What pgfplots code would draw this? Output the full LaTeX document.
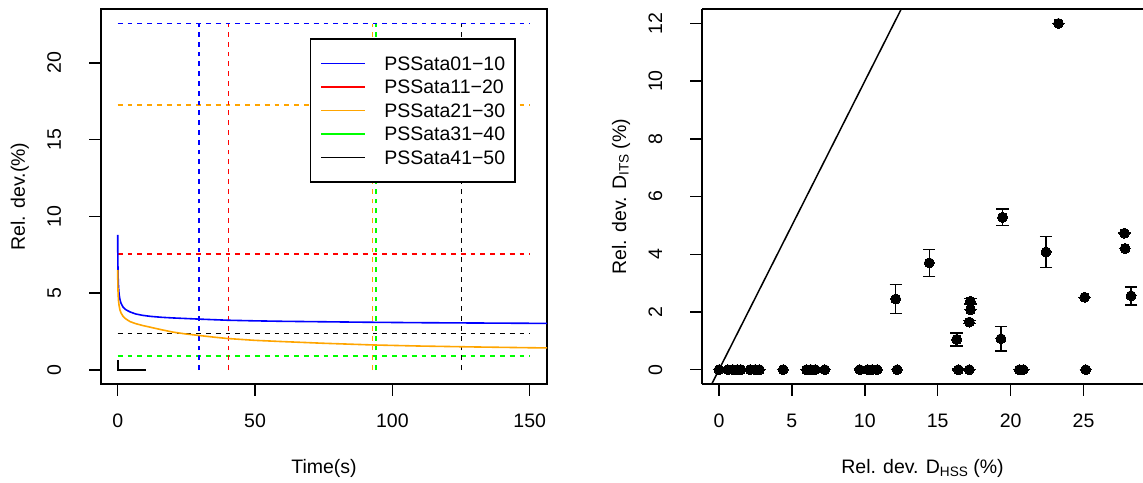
\documentclass[border=0pt]{standalone}
\usepackage{fontspec}
\setmainfont{Liberation Sans}
\usepackage{pgfplots}
\pgfplotsset{compat=1.18}
\definecolor{rblue}{RGB}{0,0,255}
\definecolor{rred}{RGB}{255,0,0}
\definecolor{rorange}{RGB}{255,165,0}
\definecolor{rgreen}{RGB}{0,255,0}
\newcommand{\fs}{\fontsize{19.5}{23}\selectfont}
\pgfplotsset{
  rstyle/.style={
    scale only axis,
    anchor=south west,
    axis line style={line width=1.5pt},
    tick align=outside,
    major tick length=11.7pt,
    every tick/.style={black, line width=1.5pt},
    xtick pos=left, ytick pos=left,
    font=\fs,
    /pgf/number format/assume math mode=true,
    xticklabel style={anchor=base, yshift=-32pt},
    yticklabel style={xshift=-28.3pt, rotate=90, anchor=base},
    every axis x label/.style={at={(axis description cs:0.5,0)}, anchor=base, yshift=-89.5pt},
    every axis y label/.style={at={(axis description cs:0,0.5)}, xshift=-76pt, rotate=90, anchor=base},
  },
  hd/.style={dash pattern=on 4.9pt off 4.9pt, line width=1.6pt},
}
\begin{document}
\begin{tikzpicture}
\useasboundingbox (0,0) rectangle (1143pt,482pt);
\begin{axis}[rstyle,
  at={(101pt,98pt)}, width=446pt, height=375pt,
  xmin=-6.08, xmax=156.3, ymin=-0.911, ymax=23.5,
  xtick={0,50,100,150}, ytick={0,5,10,15,20},
  xlabel={Time(s)}, ylabel={Rel. dev.(\%)},
  legend style={at={(0.4686,0.922)}, anchor=north west, draw=black, line width=1.5pt, fill=white,
    inner xsep=10pt, inner ysep=14.9pt, row sep=4.5pt, column sep=18pt,
    nodes={inner sep=0pt, text height=16.5pt, text depth=2.5pt, font=\fs}},
  legend cell align=left,
  legend image code/.code={\path (0pt,0pt) -- (44pt,0pt); \draw[#1, line width=1.6pt] (7.7pt,0pt) -- (44pt,0pt);},
]
% legend entries
\addlegendimage{rblue}\addlegendentry{PSSata01\char"2212 10}
\addlegendimage{rred}\addlegendentry{PSSata11\char"2212 20}
\addlegendimage{rorange}\addlegendentry{PSSata21\char"2212 30}
\addlegendimage{rgreen}\addlegendentry{PSSata31\char"2212 40}
\addlegendimage{black}\addlegendentry{PSSata41\char"2212 50}
% horizontal dashed
\addplot[rblue, hd, forget plot] coordinates {(0,22.55) (150,22.55)};
\addplot[rred, hd, forget plot] coordinates {(0,7.55) (150,7.55)};
\addplot[rorange, hd, forget plot] coordinates {(0,17.25) (150,17.25)};
\addplot[rgreen, hd, forget plot] coordinates {(0,0.93) (150,0.93)};
\addplot[black, hd, forget plot] coordinates {(0,2.37) (150,2.37)};
% vertical dashed
\addplot[rblue, hd, forget plot] coordinates {(29.5,0) (29.5,22.55)};
\addplot[rred, hd, forget plot] coordinates {(40.3,0) (40.3,22.55)};
\addplot[rorange, hd, forget plot] coordinates {(92.8,0) (92.8,22.55)};
\addplot[rgreen, hd, forget plot] coordinates {(94.0,0) (94.0,22.55)};
\addplot[black, hd, forget plot] coordinates {(125.2,0) (125.2,22.55)};
% curves
\addplot[rblue, line width=1.6pt, forget plot] coordinates {
(0,8.79) (0.05,7.2) (0.15,6.1) (0.3,5.4) (0.5,4.95) (0.8,4.6) (1.2,4.35) (2,4.08) (3,3.92) (4.5,3.78) (6.5,3.65) (9,3.56) (12,3.49) (16,3.43) (20,3.39) (25,3.35) (30,3.31) (40,3.24) (50,3.2) (60,3.17) (75,3.14) (90,3.11) (110,3.08) (130,3.06) (150,3.04) (160,3.03)};
\addplot[rorange, line width=1.6pt, forget plot] coordinates {
(0,6.51) (0.05,5.6) (0.15,4.95) (0.3,4.5) (0.5,4.2) (0.8,3.92) (1.2,3.72) (2,3.48) (3,3.32) (4.5,3.15) (6.5,3.02) (9,2.9) (12,2.78) (16,2.62) (20,2.47) (25,2.34) (30,2.24) (35,2.14) (40,2.05) (50,1.93) (60,1.85) (75,1.74) (93,1.63) (110,1.56) (130,1.5) (150,1.45) (160,1.43)};
\addplot[black, line width=1.6pt, forget plot] coordinates {(0,0.62) (0,0) (10.3,0)};
\end{axis}

\begin{axis}[rstyle,
  at={(702pt,98pt)}, width=441pt, height=375pt,
  axis x line*=box, axis y line*=left,
  xmin=-1.166, xmax=29.08, ymin=-0.496, ymax=12.5,
  xtick={0,5,10,15,20,25}, ytick={0,2,4,6,8,10,12},
  xlabel={Rel. dev. D\raisebox{-2.7pt}{\fontsize{13.6}{15}\selectfont HSS} (\%)},
  ylabel={Rel. dev. D\raisebox{-2.7pt}{\fontsize{13.6}{15}\selectfont ITS} (\%)},
]
\addplot[black, line width=1.5pt] coordinates {(-2,-2) (14,14)};
\addplot[only marks, mark=*, mark size=5pt, mark options={fill=black, draw=black, line width=0pt},
  error bars/.cd, y dir=both, y explicit,
  error bar style={line width=1.5pt, black},
  error mark options={rotate=90, mark size=6.2pt, line width=1.5pt, black}]
coordinates {
(0,0) +- (0,0)
(0.6,0) +- (0,0)
(0.95,0) +- (0,0)
(1.25,0) +- (0,0)
(1.5,0) +- (0,0)
(2.13,0) +- (0,0)
(2.47,0) +- (0,0)
(2.77,0) +- (0,0)
(4.4,0) +- (0,0)
(6.0,0) +- (0,0)
(6.3,0) +- (0,0)
(6.6,0) +- (0,0)
(7.25,0) +- (0,0)
(9.65,0) +- (0,0.03)
(10.2,0) +- (0,0)
(10.5,0) +- (0,0)
(10.85,0) +- (0,0)
(12.22,0) +- (0,0)
(16.42,0) +- (0,0.03)
(17.17,0) +- (0,0)
(20.6,0) +- (0,0)
(20.87,0) +- (0,0)
(25.15,0) +- (0,0)
(12.12,2.45) +- (0,0.5)
(14.42,3.70) +- (0,0.47)
(16.3,1.05) +- (0,0.23)
(17.17,1.65) +- (0,0.05)
(17.25,2.08) +- (0,0)
(17.24,2.37) +- (0,0.1)
(19.34,1.07) +- (0,0.42)
(19.45,5.28) +- (0,0.29)
(22.43,4.08) +- (0,0.54)
(23.28,12.0) +- (0,0)
(25.08,2.51) +- (0,0)
(27.8,4.73) +- (0,0)
(27.85,4.2) +- (0,0)
(28.26,2.56) +- (0,0.31)
};
\end{axis}
\end{tikzpicture}
\end{document}
